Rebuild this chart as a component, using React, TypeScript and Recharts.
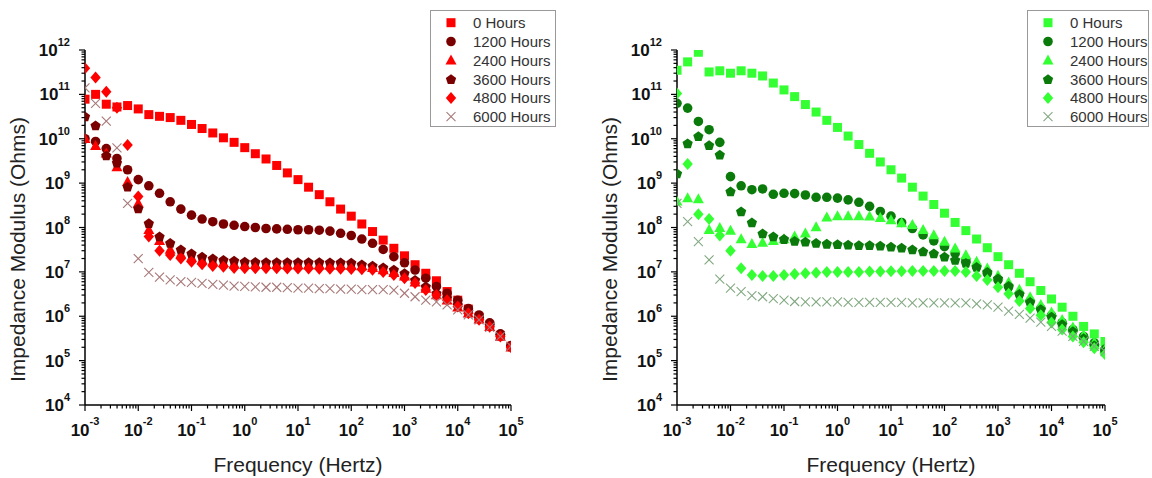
import React from "react";
import { ScatterChart, Scatter, XAxis, YAxis } from "recharts";

const FONT = "'Liberation Sans', Arial, sans-serif";

// frequency grid (Hz), 5 points per decade
const freqs = [
  0.001, 0.00158, 0.00251, 0.00398, 0.00631,
  0.01, 0.0158, 0.0251, 0.0398, 0.0631,
  0.1, 0.158, 0.251, 0.398, 0.631,
  1, 1.58, 2.51, 3.98, 6.31,
  10, 15.8, 25.1, 39.8, 63.1,
  100, 158, 251, 398, 631,
  1000, 1580, 2510, 3980, 6310,
  10000, 15800, 25100, 39800, 63100,
  100000,
];

const hours = ["0 Hours", "1200 Hours", "2400 Hours", "3600 Hours", "4800 Hours", "6000 Hours"];

const xTicks = [1e-3, 1e-2, 1e-1, 1, 10, 100, 1000, 10000, 100000];
const yTicks = [1e4, 1e5, 1e6, 1e7, 1e8, 1e9, 1e10, 1e11, 1e12];

// left panel (red)
const redH0 = [7.8e10, 1.0e11, 6.0e10, 5.2e10, 5.6e10, 4.7e10, 3.5e10, 3.2e10, 3.0e10, 2.6e10, 2.1e10, 1.7e10, 1.35e10, 1.05e10, 8.3e9, 6.3e9, 4.6e9, 3.5e9, 2.5e9, 1.7e9, 1.2e9, 8.1e8, 5.5e8, 3.8e8, 2.6e8, 1.8e8, 1.2e8, 8.1e7, 5.2e7, 3.4e7, 2.3e7, 1.45e7, 9.3e6, 6.3e6, 3.6e6, 2.3e6, 1.45e6, 9.5e5, 6.3e5, 3.7e5, 2.1e5];
const redH1200 = [1.0e10, 8.7e9, 6.0e9, 3.6e9, 2.0e9, 1.2e9, 8.7e8, 5.9e8, 3.8e8, 2.6e8, 1.9e8, 1.55e8, 1.35e8, 1.2e8, 1.12e8, 1.05e8, 1.0e8, 9.5e7, 9.3e7, 9.1e7, 8.9e7, 8.9e7, 8.7e7, 8.3e7, 7.4e7, 6.6e7, 5.5e7, 4.4e7, 3.2e7, 2.2e7, 1.6e7, 1.1e7, 7.2e6, 4.7e6, 3.3e6, 2.3e6, 1.5e6, 1.07e6, 7.1e5, 4.0e5, 2.2e5];
const redH2400 = [1.0e10, 6.9e9, 4.7e9, 2.3e9, 1.07e9, 3.5e8, 8.9e7, 5.0e7, 3.2e7, 2.5e7, 2.1e7, 1.85e7, 1.7e7, 1.6e7, 1.5e7, 1.45e7, 1.45e7, 1.44e7, 1.44e7, 1.43e7, 1.43e7, 1.42e7, 1.42e7, 1.41e7, 1.4e7, 1.39e7, 1.35e7, 1.23e7, 1.1e7, 9.5e6, 7.9e6, 5.8e6, 4.2e6, 3.0e6, 2.3e6, 1.6e6, 1.17e6, 8.5e5, 5.8e5, 3.5e5, 2.0e5];
const redH3600 = [3.2e10, 2.0e10, 4.2e9, 2.9e9, 8.3e8, 2.7e8, 1.26e8, 6.3e7, 4.5e7, 3.2e7, 2.6e7, 2.2e7, 2.0e7, 1.86e7, 1.78e7, 1.7e7, 1.67e7, 1.66e7, 1.66e7, 1.66e7, 1.65e7, 1.65e7, 1.65e7, 1.64e7, 1.63e7, 1.62e7, 1.48e7, 1.38e7, 1.26e7, 1.12e7, 9.3e6, 6.6e6, 4.7e6, 3.3e6, 2.6e6, 1.8e6, 1.3e6, 9.1e5, 6.3e5, 3.7e5, 2.1e5];
const redH4800 = [3.9e11, 2.4e11, 1.15e11, 5.0e10, 7.2e9, 5.0e8, 6.3e7, 3.0e7, 2.4e7, 2.0e7, 1.7e7, 1.48e7, 1.35e7, 1.3e7, 1.22e7, 1.21e7, 1.2e7, 1.2e7, 1.2e7, 1.19e7, 1.19e7, 1.19e7, 1.18e7, 1.18e7, 1.17e7, 1.16e7, 1.15e7, 1.12e7, 1.0e7, 8.5e6, 7.2e6, 5.6e6, 3.9e6, 3.0e6, 2.3e6, 1.66e6, 1.17e6, 8.3e5, 5.8e5, 3.5e5, 2.0e5];
const redH6000 = [1.4e11, 6.3e10, 2.5e10, 6.2e9, 3.5e8, 2.0e7, 9.8e6, 7.6e6, 6.6e6, 6.0e6, 5.8e6, 5.5e6, 5.2e6, 5.0e6, 4.8e6, 4.7e6, 4.6e6, 4.5e6, 4.5e6, 4.4e6, 4.3e6, 4.3e6, 4.2e6, 4.2e6, 4.1e6, 4.1e6, 4.0e6, 4.0e6, 4.0e6, 3.9e6, 3.3e6, 2.75e6, 2.3e6, 2.1e6, 1.8e6, 1.4e6, 1.07e6, 8.3e5, 5.6e5, 3.5e5, 2.1e5];

// right panel (green)
const greenH0 = [3.5e11, 5.4e11, 8.9e11, 3.2e11, 3.4e11, 3.0e11, 3.4e11, 3.0e11, 2.6e11, 1.8e11, 1.26e11, 8.9e10, 5.9e10, 4.0e10, 2.6e10, 1.8e10, 1.15e10, 7.4e9, 4.7e9, 3.0e9, 2.0e9, 1.3e9, 8.1e8, 5.1e8, 3.3e8, 2.1e8, 1.3e8, 8.5e7, 5.5e7, 3.5e7, 2.2e7, 1.45e7, 9.3e6, 6.0e6, 3.8e6, 2.45e6, 1.6e6, 1.0e6, 5.9e5, 4.0e5, 2.7e5];
const greenH1200 = [6.3e10, 4.9e10, 2.45e10, 1.6e10, 8.3e9, 1.4e9, 8.7e8, 7.1e8, 7.4e8, 5.6e8, 5.9e8, 5.8e8, 5.4e8, 4.8e8, 4.8e8, 4.6e8, 4.2e8, 3.7e8, 3.0e8, 2.3e8, 1.8e8, 1.3e8, 9.5e7, 6.8e7, 5.0e7, 3.7e7, 2.6e7, 1.86e7, 1.3e7, 9.3e6, 6.6e6, 4.6e6, 3.2e6, 2.2e6, 1.5e6, 1.05e6, 7.2e5, 5.0e5, 3.5e5, 2.5e5, 1.8e5];
const greenH2400 = [3.9e8, 4.6e8, 4.4e8, 8.9e7, 9.8e7, 8.5e7, 5.5e7, 4.3e7, 4.6e7, 5.0e7, 5.5e7, 6.3e7, 7.4e7, 1.02e8, 1.7e8, 1.8e8, 1.8e8, 1.8e8, 1.78e8, 1.66e8, 1.48e8, 1.26e8, 1.15e8, 8.9e7, 6.8e7, 4.8e7, 3.4e7, 2.4e7, 1.7e7, 1.2e7, 8.3e6, 5.8e6, 4.0e6, 2.7e6, 1.8e6, 1.23e6, 8.3e5, 5.6e5, 3.8e5, 2.6e5, 1.8e5];
const greenH3600 = [1.66e9, 7.9e9, 1.15e10, 7.2e9, 4.4e9, 6.5e8, 2.3e8, 1.3e8, 7.4e7, 6.3e7, 5.5e7, 5.0e7, 4.8e7, 4.5e7, 4.3e7, 4.2e7, 4.1e7, 4.0e7, 4.0e7, 3.9e7, 3.7e7, 3.5e7, 3.2e7, 2.9e7, 2.6e7, 2.2e7, 1.86e7, 1.6e7, 1.3e7, 1.0e7, 7.1e6, 4.8e6, 3.2e6, 2.1e6, 1.45e6, 9.8e5, 6.6e5, 4.6e5, 3.2e5, 2.2e5, 1.6e5];
const greenH4800 = [1.05e11, 2.7e9, 2.0e8, 1.55e8, 6.6e7, 3.0e7, 1.2e7, 8.5e6, 8.1e6, 8.1e6, 8.5e6, 8.9e6, 9.3e6, 9.5e6, 1.0e7, 1.0e7, 1.0e7, 1.0e7, 1.02e7, 1.02e7, 1.03e7, 1.03e7, 1.04e7, 1.04e7, 1.05e7, 1.05e7, 1.04e7, 1.0e7, 8.1e6, 6.6e6, 4.5e6, 3.2e6, 2.2e6, 1.5e6, 1.05e6, 7.2e5, 5.0e5, 3.5e5, 2.6e5, 1.9e5, 1.4e5];
const greenH6000 = [3.5e8, 1.35e8, 4.8e7, 1.86e7, 6.9e6, 4.3e6, 3.6e6, 2.9e6, 2.75e6, 2.5e6, 2.3e6, 2.15e6, 2.1e6, 2.1e6, 2.1e6, 2.1e6, 2.05e6, 2.05e6, 2.05e6, 2.05e6, 2.05e6, 2.05e6, 2.0e6, 2.0e6, 2.0e6, 2.0e6, 2.0e6, 2.0e6, 1.9e6, 1.8e6, 1.6e6, 1.3e6, 1.1e6, 9.1e5, 7.4e5, 5.9e5, 4.6e5, 3.5e5, 2.7e5, 2.1e5, 1.6e5];

const shapes = ["square", "circle", "triangle", "pentagon", "diamond", "x"];
const redColors = ["#ff0000", "#7a0000", "#ff0000", "#7a0000", "#ff0000", "#a87878"];
const greenColors = ["#33ff33", "#0a7a0a", "#33ff33", "#0a7a0a", "#33ff33", "#80a880"];

const toPoints = (vals: number[]) => vals.map((z, i) => ({ f: freqs[i], z }));

const redSeries = [redH0, redH1200, redH2400, redH3600, redH4800, redH6000].map((v, i) => ({
  name: hours[i], data: toPoints(v), shape: shapes[i], color: redColors[i],
}));
const greenSeries = [greenH0, greenH1200, greenH2400, greenH3600, greenH4800, greenH6000].map((v, i) => ({
  name: hours[i], data: toPoints(v), shape: shapes[i], color: greenColors[i],
}));

// majors plus 2..9 minors for log axes
const withMinors = (majors: number[]) => {
  const out: number[] = [];
  for (let i = 0; i < majors.length - 1; i++) {
    for (let m = 1; m < 10; m++) out.push(majors[i] * m);
  }
  out.push(majors[majors.length - 1]);
  return out;
};

const isMajor = (v: number) => {
  const e = Math.log10(v);
  return Math.abs(e - Math.round(e)) < 1e-6;
};

function Marker({ cx, cy, shape, color }: any) {
  if (cx == null || cy == null) return null;
  switch (shape) {
    case "square":
      return <rect x={cx - 4.5} y={cy - 4.5} width={9} height={9} fill={color} />;
    case "circle":
      return <circle cx={cx} cy={cy} r={4.8} fill={color} />;
    case "triangle":
      return <polygon points={`${cx},${cy - 5.8} ${cx + 5.5},${cy + 4.2} ${cx - 5.5},${cy + 4.2}`} fill={color} />;
    case "pentagon": {
      const pts = [0, 1, 2, 3, 4]
        .map((k) => {
          const a = -Math.PI / 2 + (k * 2 * Math.PI) / 5;
          return `${cx + 5.4 * Math.cos(a)},${cy + 0.5 + 5.4 * Math.sin(a)}`;
        })
        .join(" ");
      return <polygon points={pts} fill={color} />;
    }
    case "diamond":
      return <polygon points={`${cx},${cy - 6} ${cx + 5.2},${cy} ${cx},${cy + 6} ${cx - 5.2},${cy}`} fill={color} />;
    default:
      return (
        <g stroke={color} strokeWidth={1.1}>
          <line x1={cx - 4.5} y1={cy - 4.5} x2={cx + 4.5} y2={cy + 4.5} />
          <line x1={cx - 4.5} y1={cy + 4.5} x2={cx + 4.5} y2={cy - 4.5} />
        </g>
      );
  }
}

const XTick = ({ x, y, payload }: any) => {
  const v = payload.value;
  const major = isMajor(v);
  return (
    <g>
      <line x1={x} x2={x} y1={y} y2={y + (major ? 6 : 3.5)} stroke="#000" strokeWidth={1.2} />
      {major && (
        <text x={x} y={y + 31} textAnchor="middle" fontFamily={FONT} fontSize={17} fontWeight="bold" fill="#111">
          10<tspan dy={-11} fontSize={11}>{Math.round(Math.log10(v))}</tspan>
        </text>
      )}
    </g>
  );
};

const YTick = ({ x, y, payload }: any) => {
  const v = payload.value;
  const major = isMajor(v);
  return (
    <g>
      <line x1={x} x2={x - (major ? 6 : 3.5)} y1={y} y2={y} stroke="#000" strokeWidth={1.2} />
      {major && (
        <text x={x - 15} y={y + 6} textAnchor="end" fontFamily={FONT} fontSize={17} fontWeight="bold" fill="#111">
          10<tspan dy={-10} fontSize={11}>{Math.round(Math.log10(v))}</tspan>
        </text>
      )}
    </g>
  );
};

function LegendBox({ left, top, width, series }: any) {
  return (
    <svg style={{ position: "absolute", left, top }} width={width + 2} height={119}>
      <rect x={0.5} y={0.5} width={width} height={116} fill="#fff" stroke="#999" />
      {series.map((s: any, i: number) => {
        const cy = 12.7 + i * 18.8;
        return (
          <g key={s.name}>
            <Marker cx={21} cy={cy} shape={s.shape} color={s.color} />
            <text x={43} y={cy + 5.5} fontFamily={FONT} fontSize={15} fill="#333">
              {s.name}
            </text>
          </g>
        );
      })}
    </svg>
  );
}

function Panel({ series, left, marginLeft, marginRight }: any) {
  return (
    <div style={{ position: "absolute", left, top: 0 }}>
      <ScatterChart width={576} height={478} margin={{ top: 50, right: marginRight, bottom: 33, left: marginLeft }}>
        <XAxis
          type="number"
          dataKey="f"
          scale="log"
          domain={[1e-3, 1e5]}
          ticks={withMinors(xTicks)}
          interval={0}
          tick={<XTick />}
          tickSize={0}
          tickMargin={0}
          height={40}
          axisLine={{ stroke: "#000", strokeWidth: 1.5 }}
          allowDataOverflow
          label={{ value: "Frequency (Hertz)", position: "center", dy: 40, fontSize: 21, fontFamily: FONT, fill: "#222" }}
        />
        <YAxis
          type="number"
          dataKey="z"
          scale="log"
          domain={[1e4, 1e12]}
          ticks={withMinors(yTicks)}
          interval={0}
          tick={<YTick />}
          tickSize={0}
          tickMargin={0}
          width={60}
          axisLine={{ stroke: "#000", strokeWidth: 1.5 }}
          allowDataOverflow
          label={{ value: "Impedance Modulus (Ohms)", angle: -90, position: "center", dx: -37, dy: 22, fontSize: 21, fontFamily: FONT, fill: "#222" }}
        />
        {series.map((s: any) => (
          <Scatter
            key={s.name}
            name={s.name}
            data={s.data}
            isAnimationActive={false}
            shape={(p: any) => <Marker cx={p.cx} cy={p.cy} shape={s.shape} color={s.color} />}
          />
        ))}
      </ScatterChart>
    </div>
  );
}

export default function App() {
  return (
    <div style={{ position: "absolute", left: 0, top: 0, width: 1152, height: 478, background: "#fff", overflow: "hidden" }}>
      <Panel series={redSeries} left={0} marginLeft={25} marginRight={65} />
      <Panel series={greenSeries} left={576} marginLeft={41} marginRight={47} />
      <LegendBox left={430} top={10} width={125} series={redSeries} />
      <LegendBox left={1027} top={10} width={121} series={greenSeries} />
    </div>
  );
}
